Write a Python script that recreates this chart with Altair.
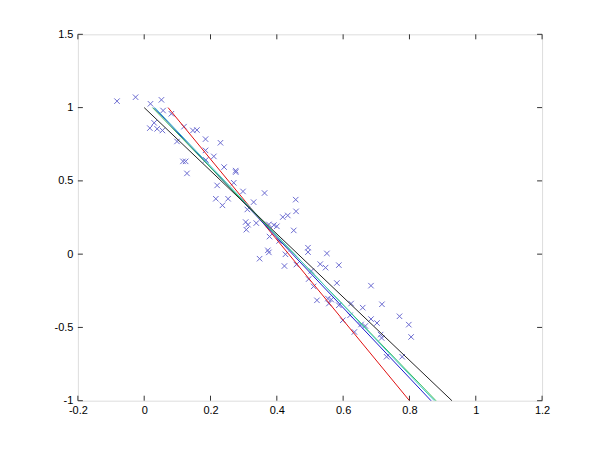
import altair as alt
import pandas as pd

# scatter points (x markers)
pts_x = [-0.082, -0.026, 0.019, 0.052, 0.057, 0.082, 0.030, 0.017, 0.039, 0.055,
         0.120, 0.147, 0.159, 0.099, 0.185, 0.230, 0.185, 0.210, 0.117, 0.125,
         0.129, 0.186, 0.241, 0.276, 0.276, 0.220, 0.270, 0.298, 0.363, 0.216,
         0.253, 0.236, 0.330, 0.311, 0.457, 0.458, 0.418, 0.433, 0.451, 0.306,
         0.313, 0.338, 0.308, 0.376, 0.391, 0.400, 0.378, 0.407, 0.373, 0.376,
         0.348, 0.494, 0.494, 0.551, 0.531, 0.547, 0.587, 0.426, 0.423, 0.459,
         0.504, 0.496, 0.511, 0.581, 0.684, 0.521, 0.554, 0.564, 0.557, 0.587,
         0.624, 0.659, 0.717, 0.621, 0.684, 0.702, 0.770, 0.798, 0.805, 0.599,
         0.654, 0.667, 0.634, 0.713, 0.716, 0.731, 0.778]
pts_y = [1.044, 1.071, 1.026, 1.053, 0.980, 0.958, 0.896, 0.860, 0.855, 0.844,
         0.870, 0.844, 0.847, 0.769, 0.785, 0.760, 0.708, 0.667, 0.633, 0.633,
         0.551, 0.643, 0.594, 0.560, 0.570, 0.469, 0.487, 0.428, 0.417, 0.378,
         0.378, 0.333, 0.355, 0.305, 0.372, 0.292, 0.253, 0.264, 0.162, 0.219,
         0.201, 0.212, 0.167, 0.203, 0.198, 0.190, 0.120, 0.090, 0.026, 0.012,
         -0.031, 0.044, 0.014, 0.005, -0.068, -0.092, -0.075, -0.001, -0.081, -0.071,
         -0.115, -0.170, -0.220, -0.197, -0.215, -0.315, -0.303, -0.310, -0.337, -0.349,
         -0.337, -0.365, -0.342, -0.417, -0.443, -0.470, -0.424, -0.481, -0.565, -0.451,
         -0.480, -0.490, -0.531, -0.549, -0.572, -0.700, -0.700]

# fitted lines (start / end points)
line_names = ["r", "b", "g", "c", "k"]
line_x_start = [0.072, 0.030, 0.025, 0.032, 0.000]
line_y_start = [1.0, 1.0, 1.0, 1.0, 1.0]
line_x_end = [0.800, 0.865, 0.880, 0.875, 0.928]
line_y_end = [-1.0, -1.0, -1.0, -1.0, -1.0]
line_colors = ["#e01010", "#1a1acc", "#33bb55", "#40c8c8", "#222222"]

x_ticks = [-0.2, 0, 0.2, 0.4, 0.6, 0.8, 1, 1.2]
y_ticks = [-1, -0.5, 0, 0.5, 1, 1.5]

W, H = 465, 367
TL = 5

pts = pd.DataFrame({"x": pts_x, "y": pts_y})
rows = []
for n, x0, y0, x1, y1 in zip(line_names, line_x_start, line_y_start, line_x_end, line_y_end):
    rows.append({"s": n, "x": x0, "y": y0, "o": 0})
    rows.append({"s": n, "x": x1, "y": y1, "o": 1})
lines = pd.DataFrame(rows)
xt = pd.DataFrame({"x": x_ticks})
yt = pd.DataFrame({"y": y_ticks})

xscale = alt.Scale(domain=[-0.2, 1.2], nice=False, zero=False)
yscale = alt.Scale(domain=[-1, 1.5], nice=False, zero=False)

xaxis = alt.Axis(values=x_ticks, grid=False, domain=False, ticks=False, title=None,
                 labelExpr="'' + datum.value", labelFontSize=11, labelFont="Liberation Sans",
                 labelColor="#000", labelPadding=4, labelFlush=False)
yaxis = alt.Axis(values=y_ticks, grid=False, domain=False, ticks=False, title=None,
                 labelExpr="'' + datum.value", labelFontSize=11, labelFont="Liberation Sans",
                 labelColor="#000", labelPadding=5, labelFlush=False)

X = alt.X("x:Q", scale=xscale, axis=xaxis)
Y = alt.Y("y:Q", scale=yscale, axis=yaxis)

scatter = alt.Chart(pts).mark_point(
    shape="M-1,-1L1,1M-1,1L1,-1", filled=False, size=30, strokeWidth=1, color="#6a6ad0", opacity=1
).encode(x=X, y=Y)

line_layer = alt.Chart(lines).mark_line(strokeWidth=1).encode(
    x=X, y=Y,
    color=alt.Color("s:N", scale=alt.Scale(domain=line_names, range=line_colors), legend=None),
    order="o:Q",
)

tick_color = "#333"
bt = alt.Chart(xt).mark_rule(color=tick_color, strokeWidth=1).encode(
    x=X, y=alt.value(H), y2=alt.value(H - TL))
tt = alt.Chart(xt).mark_rule(color=tick_color, strokeWidth=1).encode(
    x=X, y=alt.value(0), y2=alt.value(TL))
lt = alt.Chart(yt).mark_rule(color=tick_color, strokeWidth=1).encode(
    y=Y, x=alt.value(0), x2=alt.value(TL))
rt = alt.Chart(yt).mark_rule(color=tick_color, strokeWidth=1).encode(
    y=Y, x=alt.value(W), x2=alt.value(W - TL))

chart = alt.layer(scatter, line_layer, bt, tt, lt, rt).properties(
    width=W, height=H,
    autosize=alt.AutoSizeParams(type="none"),
    padding={"left": 70, "top": 26, "right": 50, "bottom": 42},
).configure_view(stroke="#444", strokeWidth=1).configure(background="white")

chart.save("out.html", embed_options={"renderer": "svg", "actions": False})
